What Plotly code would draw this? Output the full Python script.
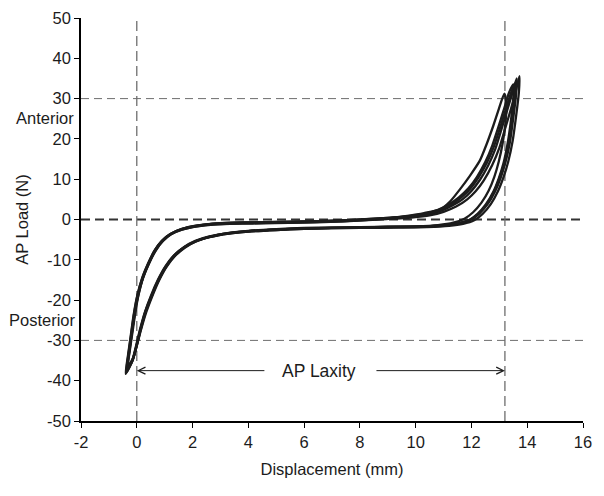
import plotly.graph_objects as go

# ---- data: AP load vs displacement, repeated loading cycles ----
CYCLE_1 = [(-0.38,-38.0),(-0.3,-33.5),(-0.2,-28.5),(-0.1,-23.5),(0.02,-19.0),(0.2,-14.5),(0.42,-10.8),(0.65,-7.6),(0.9,-5.3),(1.2,-3.6),(1.6,-2.4),(2.1,-1.6),(2.7,-1.1),(3.4,-0.9),(4.2,-0.8),(5.0,-0.7),(6.0,-0.6),(7.0,-0.4),(8.0,-0.1),(9.0,0.3),(9.8,0.7),(10.4,1.2),(10.9,2.1),(11.3,3.4),(11.7,5.1),(12.0,7.1),(12.3,9.8),(12.6,13.4),(12.85,17.4),(13.05,21.8),(13.25,26.4),(13.45,31.0),(13.62,35.0),
           (13.6,31.0),(13.5,25.2),(13.38,19.2),(13.22,14.2),(13.05,10.4),(12.85,7.0),(12.6,4.0),(12.3,1.6),(12.0,0.0),(11.6,-0.9),(11.1,-1.4),(10.3,-1.7),(9.3,-1.8),(8.0,-1.9),(7.0,-2.0),(6.0,-2.1),(5.0,-2.4),(4.0,-2.8),(3.3,-3.3),(2.6,-4.2),(2.1,-5.3),(1.7,-6.8),(1.35,-8.8),(1.05,-11.5),(0.8,-14.6),(0.55,-18.5),(0.3,-23.0),(0.12,-27.5),(0.0,-31.0),(-0.15,-35.0),(-0.38,-38.0)]
CYCLE_2 = [(-0.32,-36.5),(-0.25,-32.5),(-0.15,-27.8),(-0.05,-23.0),(0.06,-18.8),(0.24,-14.2),(0.46,-10.5),(0.7,-7.4),(0.95,-5.2),(1.25,-3.5),(1.65,-2.3),(2.2,-1.5),(2.8,-1.0),(3.5,-0.8),(4.3,-0.7),(5.1,-0.6),(6.1,-0.5),(7.1,-0.3),(8.1,0.0),(9.0,0.4),(9.7,0.8),(10.3,1.4),(10.8,2.4),(11.2,3.8),(11.55,5.5),(11.9,7.8),(12.2,10.6),(12.5,14.3),(12.75,18.4),(12.95,22.6),(13.15,27.0),(13.35,31.5),(13.5,33.5),
           (13.5,30.0),(13.42,24.8),(13.3,19.0),(13.15,14.0),(12.98,10.2),(12.78,6.8),(12.52,3.8),(12.22,1.4),(11.9,-0.2),(11.5,-1.0),(11.0,-1.5),(10.2,-1.8),(9.2,-1.9),(8.0,-2.0),(7.0,-2.1),(6.0,-2.3),(5.0,-2.6),(4.0,-3.0),(3.3,-3.5),(2.6,-4.4),(2.1,-5.5),(1.72,-7.0),(1.38,-9.0),(1.08,-11.6),(0.82,-14.8),(0.58,-18.6),(0.34,-23.0),(0.15,-27.4),(0.02,-30.8),(-0.12,-34.2),(-0.32,-36.5)]
CYCLE_3 = [(-0.36,-37.5),(-0.28,-33.0),(-0.18,-28.2),(-0.08,-23.4),(0.04,-19.2),(0.22,-14.6),(0.44,-10.9),(0.68,-7.7),(0.93,-5.4),(1.22,-3.7),(1.62,-2.5),(2.15,-1.7),(2.75,-1.2),(3.45,-1.0),(4.25,-0.9),(5.05,-0.8),(6.05,-0.7),(7.05,-0.5),(8.05,-0.2),(9.0,0.3),(9.7,0.9),(10.3,1.6),(10.9,2.6),(11.25,4.6),(11.6,7.6),(11.95,10.9),(12.3,14.6),(12.55,18.8),(12.78,23.2),(12.98,27.4),(13.18,31.2),
           (13.25,29.0),(13.22,24.0),(13.12,19.0),(12.98,14.4),(12.82,10.6),(12.62,7.2),(12.36,4.2),(12.06,1.8),(11.75,0.2),(11.35,-0.8),(10.8,-1.4),(10.0,-1.7),(9.0,-1.8),(8.0,-1.95),(7.0,-2.1),(6.0,-2.2),(5.0,-2.5),(4.0,-2.9),(3.3,-3.4),(2.6,-4.3),(2.1,-5.4),(1.72,-6.9),(1.37,-8.9),(1.07,-11.5),(0.82,-14.6),(0.57,-18.4),(0.32,-22.8),(0.14,-27.2),(0.02,-30.6),(-0.14,-34.6),(-0.36,-37.5)]
CYCLE_4 = [(-0.4,-38.3),(-0.32,-34.0),(-0.22,-29.0),(-0.12,-24.0),(0.0,-19.4),(0.18,-14.8),(0.4,-11.0),(0.63,-7.8),(0.88,-5.5),(1.18,-3.8),(1.58,-2.6),(2.05,-1.8),(2.65,-1.3),(3.35,-1.1),(4.15,-1.0),(4.95,-0.9),(5.95,-0.8),(6.95,-0.6),(7.95,-0.3),(8.95,0.1),(9.85,0.5),(10.5,1.0),(11.0,1.9),(11.45,3.2),(11.85,5.0),(12.15,7.0),(12.45,9.8),(12.75,13.6),(13.0,17.8),(13.2,22.4),(13.4,27.0),(13.58,31.6),(13.72,35.6),
           (13.7,31.5),(13.6,25.6),(13.48,19.6),(13.32,14.4),(13.15,10.5),(12.95,7.0),(12.7,3.9),(12.4,1.4),(12.1,-0.2),(11.7,-1.1),(11.2,-1.6),(10.4,-1.9),(9.4,-2.0),(8.0,-2.1),(7.0,-2.2),(6.0,-2.3),(5.0,-2.6),(4.0,-3.0),(3.3,-3.5),(2.6,-4.4),(2.1,-5.5),(1.68,-7.0),(1.32,-9.0),(1.02,-11.7),(0.77,-14.8),(0.52,-18.7),(0.28,-23.2),(0.1,-27.7),(-0.02,-31.2),(-0.17,-35.2),(-0.4,-38.3)]
CYCLE_5 = [(-0.34,-37.2),(-0.27,-33.0),(-0.17,-28.0),(-0.07,-23.2),(0.04,-18.8),(0.22,-14.4),(0.44,-10.7),(0.67,-7.5),(0.92,-5.2),(1.22,-3.5),(1.62,-2.3),(2.12,-1.5),(2.72,-1.0),(3.42,-0.8),(4.22,-0.7),(5.02,-0.6),(6.02,-0.5),(7.02,-0.3),(8.02,0.0),(9.0,0.4),(9.8,0.8),(10.4,1.3),(10.85,2.3),(11.25,3.6),(11.62,5.4),(11.95,7.6),(12.25,10.4),(12.55,14.0),(12.8,18.0),(13.0,22.2),(13.2,26.6),(13.38,30.6),(13.55,33.8),
           (13.55,30.4),(13.46,24.8),(13.34,19.0),(13.18,14.0),(13.0,10.2),(12.8,6.8),(12.55,3.8),(12.26,1.5),(11.95,-0.1),(11.55,-0.9),(11.05,-1.4),(10.25,-1.7),(9.25,-1.85),(8.0,-1.95),(7.0,-2.05),(6.0,-2.2),(5.0,-2.5),(4.0,-2.9),(3.3,-3.4),(2.6,-4.3),(2.1,-5.4),(1.7,-6.9),(1.36,-8.9),(1.06,-11.6),(0.8,-14.7),(0.56,-18.6),(0.31,-23.1),(0.13,-27.6),(0.01,-31.0),(-0.14,-34.8),(-0.34,-37.2)]
CYCLES = [CYCLE_1, CYCLE_2, CYCLE_3, CYCLE_4, CYCLE_5]

X_TICKS = [-2, 0, 2, 4, 6, 8, 10, 12, 14, 16]
Y_TICKS = [-50, -40, -30, -20, -10, 0, 10, 20, 30, 40, 50]
LIMIT_LOAD = 30          # +/- 30 N reference lines
LAXITY_START = 0.0       # mm
LAXITY_END = 13.2        # mm
LAXITY_ARROW_LOAD = -37.5
LAXITY_LABEL_X = 6.55

FONT = "Liberation Sans, Arial, sans-serif"
INK = "#1c1c1c"

fig = go.Figure()

# reference lines
for yv, col, w, d in [(LIMIT_LOAD, "#6e6e6e", 1, "8px,5px"), (-LIMIT_LOAD, "#6e6e6e", 1, "8px,5px"), (0, "#333333", 1.8, "9px,5px")]:
    fig.add_shape(type="line", xref="x", yref="y", x0=X_TICKS[0], x1=X_TICKS[-1], y0=yv, y1=yv,
                  line=dict(color=col, width=w, dash=d), layer="below")
for xv in [LAXITY_START, LAXITY_END]:
    fig.add_shape(type="line", xref="x", yref="y", x0=xv, x1=xv, y0=Y_TICKS[0], y1=Y_TICKS[-1],
                  line=dict(color="#6e6e6e", width=1.3, dash="10px,5px"), layer="below")

for cyc in CYCLES:
    fig.add_trace(go.Scatter(x=[p[0] for p in cyc], y=[p[1] for p in cyc], mode="lines",
                             line=dict(color=INK, width=2.3, shape="spline", smoothing=0.6),
                             showlegend=False, hoverinfo="skip"))

# AP laxity arrows and label
fig.add_annotation(x=LAXITY_START, y=LAXITY_ARROW_LOAD, ax=4.63, ay=LAXITY_ARROW_LOAD, xref="x", yref="y",
                   axref="x", ayref="y", text="", showarrow=True, arrowhead=5, arrowsize=1.4,
                   arrowwidth=1, arrowcolor=INK)
fig.add_annotation(x=LAXITY_END, y=LAXITY_ARROW_LOAD, ax=8.54, ay=LAXITY_ARROW_LOAD, xref="x", yref="y",
                   axref="x", ayref="y", text="", showarrow=True, arrowhead=5, arrowsize=1.4,
                   arrowwidth=1, arrowcolor=INK)
fig.add_annotation(x=LAXITY_LABEL_X, y=LAXITY_ARROW_LOAD, xref="x", yref="y", text="AP Laxity",
                   showarrow=False, font=dict(family=FONT, size=17.5, color=INK))

# Anterior / Posterior side labels
fig.add_annotation(x=X_TICKS[0], y=25.3, xref="x", yref="y", text="Anterior", showarrow=False,
                   xanchor="right", xshift=-5, font=dict(family=FONT, size=16.5, color=INK))
fig.add_annotation(x=X_TICKS[0], y=-25.0, xref="x", yref="y", text="Posterior", showarrow=False,
                   xanchor="right", xshift=-3, font=dict(family=FONT, size=16.5, color=INK))

axis_common = dict(showgrid=False, zeroline=False, showline=True, linecolor="black", linewidth=1.5,
                   ticks="outside", ticklen=5, tickwidth=1.3, tickcolor="black", mirror=False,
                   tickfont=dict(family=FONT, size=16.5, color=INK))
fig.update_xaxes(range=[X_TICKS[0], X_TICKS[-1]], tickvals=X_TICKS, ticktext=[str(v) for v in X_TICKS],
                 **axis_common,
                 title=dict(text="Displacement (mm)", font=dict(family=FONT, size=16.5, color=INK), standoff=14))
fig.update_yaxes(range=[Y_TICKS[0], Y_TICKS[-1]], tickvals=Y_TICKS, ticktext=[str(v) for v in Y_TICKS],
                 **axis_common,
                 title=dict(text="AP Load (N)", font=dict(family=FONT, size=16.5, color=INK), standoff=14))

fig.update_layout(width=604, height=496, margin=dict(l=81, r=21, t=18, b=75, autoexpand=False),
                  plot_bgcolor="white", paper_bgcolor="white")

fig.write_html("out.html", config={"displayModeBar": False},
               post_script="document.body.style.margin='0';document.body.style.overflow='hidden';")
